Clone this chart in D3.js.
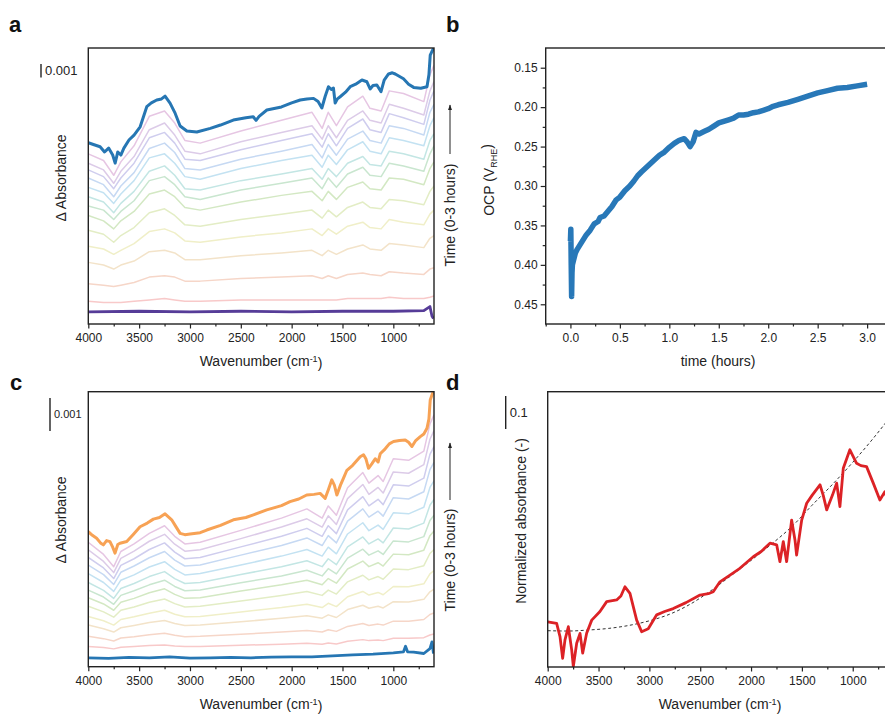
<!DOCTYPE html>
<html lang="en">
<head>
<meta charset="UTF-8">
<title>IR spectra and OCP</title>
<script src="https://d3js.org/d3.v7.min.js"></script>
<style>
    body { margin: 0; background: #fff; }
    svg { font-family: "Liberation Sans", Arial, sans-serif; }
    .frame { fill: none; stroke: #222; stroke-width: 1.4; }
    .axis line { stroke: #222; stroke-width: 1.2; }
    .axis text { font-size: 12px; fill: #222; font-family: "Liberation Sans", Arial, sans-serif; }
    .title { font-size: 14px; fill: #222; }
    .letter { font-size: 22px; font-weight: bold; fill: #111; }
    .spec { fill: none; stroke-linejoin: round; }
</style>
</head>
<body>
<script>
// ---------- panel a : spectra at OCP (units of 0.001 absorbance) ----------
const wnTopA = [4000, 3950, 3884, 3840, 3800, 3760, 3736, 3710, 3680, 3650, 3600, 3550, 3490, 3425, 3380, 3327, 3280, 3245, 3196, 3150, 3097, 3031, 2933, 2800, 2700, 2574, 2450, 2378, 2350, 2320, 2244, 2100, 2000, 1916, 1850, 1785, 1740, 1703, 1670, 1638, 1610, 1589, 1572, 1550, 1523, 1470, 1424, 1370, 1309, 1260, 1228, 1200, 1162, 1121, 1090, 1047, 1010, 981, 900, 850, 800, 730, 669, 650, 637, 614, 600];
const absTopA = [13.53, 13.4, 13.23, 12.84, 13.13, 12.61, 12.01, 12.84, 12.61, 13.13, 13.73, 14.1, 14.72, 16.22, 16.5, 16.72, 16.8, 17.01, 16.49, 15.8, 14.78, 14.4, 14.33, 14.6, 14.85, 15.22, 15.4, 15.47, 15.2, 15.5, 15.97, 16.2, 16.5, 16.72, 16.8, 16.84, 16.6, 16.12, 17.0, 17.71, 17.5, 17.61, 16.49, 16.8, 16.96, 17.3, 17.71, 17.9, 18.21, 18.08, 17.54, 17.8, 17.84, 17.34, 18.2, 18.66, 18.75, 18.66, 18.3, 17.9, 17.66, 17.6, 17.71, 18.6, 20.07, 20.45, 20.6];
const wnBaseA = [4000, 3500, 3000, 2500, 2000, 1500, 1000, 700, 640, 620, 605];
const absBaseA = [0.9, 0.95, 0.9, 0.95, 0.9, 0.95, 0.95, 1.0, 1.3, 0.6, 0.4];
const wnMidA = [4000, 3850, 3750, 3680, 3550, 3400, 3250, 3150, 3050, 2900, 2500, 2100, 1800, 1700, 1640, 1560, 1450, 1300, 1230, 1120, 1040, 900, 700, 640, 600];
const midA = [
    [12.7, 12.2, 11.1, 12.1, 13.3, 15.5, 15.9, 15.0, 13.7, 13.5, 14.4, 15.2, 15.8, 14.6, 15.8, 14.8, 16.2, 17.0, 16.1, 15.9, 17.4, 17.2, 16.6, 18.6, 19.3],
    [12.0, 11.5, 10.5, 11.4, 12.5, 14.5, 15.0, 14.1, 12.9, 12.7, 13.6, 14.3, 14.8, 13.8, 14.8, 13.9, 15.2, 15.9, 15.2, 15.0, 16.4, 16.1, 15.6, 17.4, 18.1],
    [11.5, 11.0, 10.1, 10.9, 12.0, 13.9, 14.3, 13.5, 12.3, 12.2, 13.0, 13.7, 14.2, 13.2, 14.2, 13.3, 14.6, 15.3, 14.5, 14.3, 15.7, 15.4, 14.9, 16.7, 17.4],
    [10.9, 10.4, 9.5, 10.3, 11.3, 13.1, 13.5, 12.8, 11.6, 11.5, 12.3, 12.9, 13.4, 12.4, 13.4, 12.6, 13.8, 14.4, 13.7, 13.5, 14.8, 14.6, 14.1, 15.8, 16.4],
    [10.2, 9.8, 9.0, 9.7, 10.7, 12.4, 12.7, 12.0, 11.0, 10.8, 11.6, 12.2, 12.6, 11.7, 12.6, 11.9, 13.0, 13.6, 12.9, 12.7, 13.9, 13.7, 13.3, 14.8, 15.4],
    [9.5, 9.1, 8.3, 9.0, 9.9, 11.4, 11.8, 11.1, 10.1, 10.0, 10.7, 11.2, 11.6, 10.8, 11.6, 11.0, 12.0, 12.5, 11.9, 11.8, 12.9, 12.7, 12.3, 13.7, 14.2],
    [8.8, 8.5, 7.8, 8.4, 9.2, 10.7, 11.0, 10.4, 9.5, 9.3, 10.0, 10.5, 10.9, 10.1, 10.9, 10.2, 11.2, 11.7, 11.1, 11.0, 12.0, 11.8, 11.4, 12.7, 13.3],
    [8.1, 7.7, 7.1, 7.7, 8.4, 9.7, 10.0, 9.5, 8.7, 8.5, 9.1, 9.6, 9.9, 9.2, 9.9, 9.3, 10.2, 10.6, 10.1, 10.0, 10.9, 10.8, 10.4, 11.6, 12.1],
    [7.0, 6.7, 6.1, 6.6, 7.2, 8.3, 8.6, 8.1, 7.4, 7.3, 7.8, 8.2, 8.5, 7.9, 8.5, 8.0, 8.7, 9.1, 8.7, 8.6, 9.3, 9.2, 8.9, 9.9, 10.3],
    [5.8, 5.6, 5.2, 5.5, 6.0, 6.9, 7.1, 6.8, 6.2, 6.1, 6.5, 6.8, 7.1, 6.6, 7.1, 6.7, 7.3, 7.6, 7.2, 7.1, 7.8, 7.6, 7.4, 8.2, 8.5],
    [4.6, 4.4, 4.1, 4.4, 4.7, 5.4, 5.5, 5.3, 4.8, 4.8, 5.1, 5.3, 5.5, 5.1, 5.5, 5.2, 5.6, 5.9, 5.6, 5.5, 6.0, 5.9, 5.7, 6.4, 6.6],
    [3.0, 2.9, 2.8, 2.9, 3.1, 3.5, 3.6, 3.5, 3.2, 3.2, 3.4, 3.5, 3.6, 3.4, 3.6, 3.4, 3.7, 3.8, 3.7, 3.6, 3.9, 3.8, 3.7, 4.1, 4.2],
    [1.7, 1.6, 1.6, 1.6, 1.7, 1.8, 1.9, 1.8, 1.7, 1.7, 1.8, 1.8, 1.8, 1.8, 1.8, 1.8, 1.9, 1.9, 1.9, 1.9, 2.0, 1.9, 1.9, 2.0, 2.1]
];

// ---------- panel b : open circuit potential ----------
const ocpTime = [0, 0.004, 0.008, 0.012, 0.016, 0.02, 0.03, 0.05, 0.07, 0.1, 0.13, 0.16, 0.2, 0.24, 0.28, 0.3, 0.34, 0.38, 0.42, 0.46, 0.5, 0.55, 0.6, 0.64, 0.68, 0.72, 0.78, 0.84, 0.9, 0.95, 1.0, 1.05, 1.1, 1.15, 1.18, 1.21, 1.24, 1.27, 1.3, 1.35, 1.4, 1.45, 1.5, 1.55, 1.6, 1.65, 1.7, 1.75, 1.8, 1.85, 1.9, 1.95, 2.0, 2.05, 2.1, 2.2, 2.3, 2.4, 2.5, 2.6, 2.7, 2.8, 2.9, 3.0];
const ocpVolt = [0.37, 0.355, 0.40, 0.44, 0.41, 0.40, 0.395, 0.385, 0.38, 0.374, 0.368, 0.362, 0.356, 0.348, 0.345, 0.34, 0.338, 0.332, 0.326, 0.318, 0.314, 0.306, 0.300, 0.294, 0.287, 0.282, 0.275, 0.268, 0.261, 0.257, 0.251, 0.246, 0.242, 0.240, 0.244, 0.250, 0.244, 0.232, 0.234, 0.231, 0.228, 0.224, 0.220, 0.218, 0.216, 0.214, 0.210, 0.210, 0.209, 0.207, 0.206, 0.204, 0.202, 0.199, 0.197, 0.194, 0.190, 0.186, 0.182, 0.179, 0.176, 0.175, 0.173, 0.171];

// ---------- panel c : spectra (units of 0.001 absorbance) ----------
const wnTopC = [4000, 3960, 3918, 3880, 3852, 3820, 3787, 3760, 3737, 3710, 3688, 3622, 3560, 3491, 3420, 3360, 3300, 3245, 3180, 3140, 3097, 3050, 2999, 2900, 2835, 2700, 2573, 2450, 2376, 2245, 2100, 2016, 1930, 1852, 1780, 1720, 1670, 1640, 1605, 1580, 1555, 1520, 1490, 1457, 1400, 1326, 1293, 1270, 1244, 1210, 1178, 1150, 1129, 1080, 1040, 998, 940, 883, 850, 817, 780, 735, 700, 669, 650, 637, 614, 600];
const absTopC = [4.09, 3.98, 3.89, 3.75, 3.69, 3.82, 3.79, 3.62, 3.44, 3.70, 3.74, 3.79, 4.0, 4.24, 4.35, 4.47, 4.52, 4.63, 4.45, 4.25, 4.04, 4.0, 4.02, 4.06, 4.14, 4.28, 4.45, 4.52, 4.60, 4.75, 4.88, 5.0, 5.08, 5.2, 5.22, 5.25, 5.10, 5.35, 5.66, 5.5, 5.2, 5.5, 5.71, 5.95, 6.1, 6.36, 6.42, 6.3, 6.01, 6.15, 6.3, 6.2, 6.45, 6.6, 6.75, 6.82, 6.85, 6.87, 6.8, 6.67, 6.85, 6.97, 7.05, 7.22, 7.5, 8.08, 8.28, 8.3];
const wnBaseC = [4000, 3800, 3600, 3400, 3200, 3000, 2800, 2600, 2400, 2200, 2000, 1800, 1600, 1400, 1200, 1000, 900, 880, 860, 800, 700, 640, 620, 605];
const absBaseC = [0.27, 0.25, 0.28, 0.27, 0.30, 0.26, 0.27, 0.28, 0.27, 0.29, 0.30, 0.30, 0.33, 0.36, 0.38, 0.42, 0.45, 0.62, 0.45, 0.44, 0.40, 0.55, 0.75, 0.4];
const wnMidC = [4000, 3850, 3750, 3680, 3550, 3400, 3250, 3150, 3050, 2900, 2500, 2100, 1850, 1700, 1640, 1560, 1450, 1300, 1240, 1150, 1100, 1000, 850, 700, 640, 600];
const midC = [
    [3.77, 3.40, 3.03, 3.49, 3.72, 4.04, 4.27, 3.95, 3.72, 3.77, 4.13, 4.50, 4.78, 4.50, 4.87, 4.59, 5.42, 5.88, 5.56, 5.79, 5.61, 6.30, 6.25, 6.53, 7.35, 7.63],
    [3.54, 3.19, 2.85, 3.28, 3.50, 3.80, 4.01, 3.71, 3.50, 3.54, 3.88, 4.23, 4.48, 4.23, 4.57, 4.31, 5.09, 5.52, 5.22, 5.43, 5.26, 5.90, 5.86, 6.12, 6.89, 7.15],
    [3.31, 2.99, 2.67, 3.07, 3.27, 3.55, 3.75, 3.47, 3.27, 3.31, 3.63, 3.95, 4.19, 3.95, 4.27, 4.03, 4.75, 5.15, 4.87, 5.07, 4.91, 5.51, 5.47, 5.71, 6.43, 6.67],
    [3.08, 2.79, 2.49, 2.86, 3.05, 3.30, 3.49, 3.23, 3.05, 3.08, 3.38, 3.67, 3.90, 3.67, 3.97, 3.75, 4.41, 4.78, 4.53, 4.71, 4.56, 5.12, 5.08, 5.30, 5.97, 6.19],
    [2.82, 2.55, 2.28, 2.62, 2.78, 3.02, 3.18, 2.95, 2.78, 2.82, 3.08, 3.35, 3.55, 3.35, 3.62, 3.42, 4.02, 4.36, 4.12, 4.29, 4.16, 4.66, 4.63, 4.83, 5.43, 5.63],
    [2.55, 2.31, 2.07, 2.37, 2.52, 2.73, 2.88, 2.67, 2.52, 2.55, 2.79, 3.03, 3.21, 3.03, 3.27, 3.09, 3.63, 3.93, 3.72, 3.87, 3.75, 4.20, 4.17, 4.35, 4.89, 5.07],
    [2.32, 2.11, 1.89, 2.16, 2.30, 2.48, 2.62, 2.43, 2.30, 2.32, 2.54, 2.75, 2.92, 2.75, 2.97, 2.81, 3.29, 3.56, 3.38, 3.51, 3.40, 3.81, 3.78, 3.94, 4.43, 4.59],
    [2.09, 1.90, 1.71, 1.95, 2.07, 2.24, 2.36, 2.19, 2.07, 2.09, 2.29, 2.48, 2.62, 2.48, 2.67, 2.53, 2.96, 3.20, 3.03, 3.15, 3.05, 3.41, 3.39, 3.53, 3.97, 4.11],
    [1.83, 1.66, 1.50, 1.71, 1.81, 1.95, 2.05, 1.91, 1.81, 1.83, 1.99, 2.16, 2.28, 2.16, 2.32, 2.20, 2.57, 2.77, 2.63, 2.73, 2.65, 2.96, 2.94, 3.06, 3.43, 3.55],
    [1.52, 1.39, 1.26, 1.43, 1.51, 1.62, 1.71, 1.59, 1.51, 1.52, 1.66, 1.79, 1.89, 1.79, 1.92, 1.82, 2.12, 2.28, 2.17, 2.25, 2.18, 2.43, 2.42, 2.51, 2.81, 2.91],
    [1.26, 1.15, 1.05, 1.18, 1.25, 1.34, 1.40, 1.31, 1.25, 1.26, 1.36, 1.47, 1.54, 1.47, 1.57, 1.49, 1.73, 1.86, 1.77, 1.83, 1.78, 1.97, 1.96, 2.04, 2.27, 2.35],
    [0.92, 0.85, 0.78, 0.87, 0.91, 0.97, 1.01, 0.95, 0.91, 0.92, 0.98, 1.05, 1.10, 1.05, 1.12, 1.07, 1.22, 1.31, 1.25, 1.29, 1.26, 1.38, 1.38, 1.43, 1.58, 1.63],
    [0.61, 0.58, 0.54, 0.59, 0.61, 0.64, 0.66, 0.63, 0.61, 0.61, 0.65, 0.68, 0.71, 0.68, 0.72, 0.69, 0.77, 0.82, 0.79, 0.81, 0.79, 0.86, 0.86, 0.88, 0.96, 0.99]
];

// ---------- panel d : normalized absorbance + polynomial baseline ----------
const wnRed = [4000, 3912, 3879, 3853, 3830, 3797, 3764, 3748, 3715, 3682, 3656, 3617, 3567, 3486, 3420, 3322, 3280, 3240, 3191, 3125, 3076, 3011, 2928, 2850, 2765, 2640, 2502, 2420, 2372, 2306, 2200, 2110, 1978, 1900, 1814, 1748, 1716, 1683, 1650, 1601, 1568, 1552, 1502, 1453, 1400, 1322, 1290, 1256, 1200, 1158, 1126, 1093, 1028, 962, 920, 864, 798, 733, 684, 650];
const absRed = [0.137, 0.132, 0.092, 0.026, 0.082, 0.122, 0.052, 0.001, 0.072, 0.102, 0.042, 0.102, 0.142, 0.168, 0.198, 0.203, 0.215, 0.243, 0.223, 0.142, 0.107, 0.116, 0.158, 0.168, 0.177, 0.195, 0.218, 0.222, 0.228, 0.258, 0.28, 0.299, 0.334, 0.35, 0.375, 0.370, 0.319, 0.380, 0.319, 0.445, 0.385, 0.339, 0.445, 0.496, 0.52, 0.552, 0.52, 0.476, 0.52, 0.557, 0.486, 0.602, 0.658, 0.617, 0.61, 0.607, 0.557, 0.506, 0.531, 0.50];
const wnFit = [4000, 3800, 3600, 3400, 3200, 3000, 2800, 2600, 2400, 2200, 2000, 1800, 1600, 1400, 1200, 1000, 800, 600];
const absFit = [0.110, 0.109, 0.112, 0.117, 0.126, 0.140, 0.160, 0.190, 0.230, 0.276, 0.323, 0.372, 0.425, 0.490, 0.553, 0.620, 0.692, 0.770];

// pastel colours, latest spectrum first
const midColors = ["#e6c6e3", "#dccbe8", "#cfcdee", "#c6d9f3", "#c3e2f2", "#c3e6e4", "#c9e6cf", "#d3e8c3", "#e3edc5", "#f0efc8", "#f3e3c9", "#f6d6c8", "#f8c9c9"];

const wnTicks = [4000, 3500, 3000, 2500, 2000, 1500, 1000];
const wnMinor = [3750, 3250, 2750, 2250, 1750, 1250, 750];
const ocpTicks = [0.15, 0.20, 0.25, 0.30, 0.35, 0.40, 0.45];
const ocpMinor = [0.175, 0.225, 0.275, 0.325, 0.375, 0.425];
const timeTicks = [0, 0.5, 1.0, 1.5, 2.0, 2.5, 3.0];
const timeMinor = [-0.25, 0.25, 0.75, 1.25, 1.75, 2.25, 2.75];

const svg = d3.select("body").append("svg").attr("width", 885).attr("height", 715);
const defs = svg.append("defs");
defs.append("marker").attr("id", "arrow")
    .attr("viewBox", "0 0 10 10").attr("refX", 9).attr("refY", 5)
    .attr("markerWidth", 6).attr("markerHeight", 8).attr("orient", "auto")
    .append("path").attr("d", "M0,1.5 L10,5 L0,8.5 z").attr("fill", "#222");

// scales
const xA = d3.scaleLinear().domain([4000, 600]).range([88.3, 434]);
const yA = d3.scaleLinear().domain([0, 20.6]).range([324, 48]);
const xB = d3.scaleLinear().domain([-0.25, 3.2]).range([545.7, 886.9]);
const yB = d3.scaleLinear().domain([0.125, 0.475]).range([48, 324]);
const xC = d3.scaleLinear().domain([4000, 600]).range([88.3, 434]);
const yC = d3.scaleLinear().domain([0, 8.33]).range([666.7, 391.7]);
const xD = d3.scaleLinear().domain([4000, 600]).range([547.7, 893.4]);
const yD = d3.scaleLinear().domain([0, 0.834]).range([667, 391.7]);

let clipId = 0;
function panel(x, y) {
    const x0 = d3.min(x.range()), x1 = d3.max(x.range());
    const y0 = d3.min(y.range()), y1 = d3.max(y.range());
    const id = "clip" + (clipId++);
    defs.append("clipPath").attr("id", id).append("rect")
        .attr("x", x0).attr("y", y0).attr("width", x1 - x0).attr("height", y1 - y0);
    const g = svg.append("g").attr("clip-path", `url(#${id})`);
    svg.append("rect").attr("class", "frame")
        .attr("x", x0).attr("y", y0).attr("width", x1 - x0).attr("height", y1 - y0);
    return g;
}

function bottomAxis(x, y, major, minor, fmt) {
    const y0 = d3.max(y.range());
    const g = svg.append("g").attr("class", "axis").attr("transform", `translate(0,${y0})`)
        .call(d3.axisBottom(x).tickValues(major).tickSize(4.5).tickPadding(5).tickFormat(fmt));
    g.select(".domain").remove();
    const m = svg.append("g").attr("class", "axis").attr("transform", `translate(0,${y0})`)
        .call(d3.axisBottom(x).tickValues(minor).tickSize(2.5).tickFormat(""));
    m.select(".domain").remove();
}

function spectrum(g, x, y, wn, vals, color, width) {
    const line = d3.line().x((d, i) => x(wn[i])).y(d => y(d));
    g.append("path").attr("class", "spec").attr("d", line(vals))
        .attr("stroke", color).attr("stroke-width", width);
}

function wnTitle(cx, yb) {
    const t = svg.append("text").attr("class", "title").attr("x", cx).attr("y", yb)
        .attr("text-anchor", "middle");
    t.append("tspan").text("Wavenumber (cm");
    t.append("tspan").attr("dy", "-0.45em").attr("font-size", "9px").text("-1");
    t.append("tspan").attr("dy", "0.45em").text(")");
}

function vText(x, cy, str, size) {
    return svg.append("text").attr("class", "title").attr("font-size", size + "px")
        .attr("text-anchor", "middle")
        .attr("transform", `translate(${x},${cy}) rotate(-90)`).text(str);
}

function timeArrow(x, cy, yTop, yTail) {
    vText(x + 5, cy, "Time (0-3 hours)", 13.5);
    svg.append("line").attr("x1", x).attr("x2", x).attr("y1", yTail).attr("y2", yTop)
        .attr("stroke", "#222").attr("stroke-width", 1).attr("marker-end", "url(#arrow)");
}

function scaleBar(x, y, v0, v1, label, size) {
    svg.append("line").attr("x1", x).attr("x2", x).attr("y1", y(v0)).attr("y2", y(v1))
        .attr("stroke", "#222").attr("stroke-width", 1.4);
    svg.append("text").attr("x", x + 4).attr("y", (y(v0) + y(v1)) / 2)
        .attr("dy", "0.36em").attr("font-size", size + "px").attr("fill", "#222").text(label);
}

// ---- a ----
const gA = panel(xA, yA);
midA.forEach((vals, k) => spectrum(gA, xA, yA, wnMidA, vals, midColors[k], 1.5));
spectrum(gA, xA, yA, wnBaseA, absBaseA, "#563c98", 2.8);
spectrum(gA, xA, yA, wnTopA, absTopA, "#2676b3", 3);
bottomAxis(xA, yA, wnTicks, wnMinor, d3.format("d"));
wnTitle(261, 366);
vText(66, 178, "\u0394 Absorbance", 13.5);
scaleBar(41, yA, 18.4, 19.4, "0.001", 13);
svg.append("text").attr("class", "letter").attr("x", 9).attr("y", 32).text("a");
timeArrow(450, 215, 105, 154);

// ---- b ----
const gB = panel(xB, yB);
gB.append("path").attr("class", "spec")
    .attr("d", d3.line().x((d, i) => xB(ocpTime[i])).y(d => yB(d))(ocpVolt))
    .attr("stroke", "#2878b8").attr("stroke-width", 5.5);
bottomAxis(xB, yB, timeTicks, timeMinor, d3.format(".1f"));
const ya = svg.append("g").attr("class", "axis").attr("transform", "translate(545.7,0)")
    .call(d3.axisLeft(yB).tickValues(ocpTicks).tickSize(5).tickPadding(3).tickFormat(d3.format(".2f")));
ya.select(".domain").remove();
const ym = svg.append("g").attr("class", "axis").attr("transform", "translate(545.7,0)")
    .call(d3.axisLeft(yB).tickValues(ocpMinor).tickSize(3).tickFormat(""));
ym.select(".domain").remove();
svg.append("text").attr("class", "title").attr("x", 718).attr("y", 366)
    .attr("text-anchor", "middle").text("time (hours)");
const ocpT = svg.append("text").attr("class", "title").attr("font-size", "13.5px")
    .attr("text-anchor", "middle").attr("transform", "translate(494,180) rotate(-90)");
ocpT.append("tspan").text("OCP (V");
ocpT.append("tspan").attr("dy", "0.35em").attr("font-size", "9px").text("RHE");
ocpT.append("tspan").attr("dy", "-0.35em").text(")");
svg.append("text").attr("class", "letter").attr("x", 446).attr("y", 32).text("b");

// ---- c ----
const gC = panel(xC, yC);
midC.forEach((vals, k) => spectrum(gC, xC, yC, wnMidC, vals, midColors[k], 1.5));
spectrum(gC, xC, yC, wnBaseC, absBaseC, "#2676b3", 2.8);
spectrum(gC, xC, yC, wnTopC, absTopC, "#f7a255", 3);
bottomAxis(xC, yC, wnTicks, wnMinor, d3.format("d"));
wnTitle(261, 709);
vText(66, 520, "\u0394 Absorbance", 13.5);
scaleBar(50, yC, 7.14, 8.14, "0.001", 11);
svg.append("text").attr("class", "letter").attr("x", 10).attr("y", 390).text("c");
timeArrow(450, 560, 443, 500);

// ---- d ----
const gD = panel(xD, yD);
gD.append("path").attr("class", "spec")
    .attr("d", d3.line().curve(d3.curveMonotoneX).x((d, i) => xD(wnFit[i])).y(d => yD(d))(absFit))
    .attr("stroke", "#333").attr("stroke-width", 1).attr("stroke-dasharray", "3,2.5");
spectrum(gD, xD, yD, wnRed, absRed, "#dc2226", 2.8);
bottomAxis(xD, yD, wnTicks, wnMinor, d3.format("d"));
wnTitle(720, 709);
vText(526, 521, "Normalized absorbance (-)", 13.5);
scaleBar(505.7, yD, 0.721, 0.821, "0.1", 13);
svg.append("text").attr("class", "letter").attr("x", 446).attr("y", 390).text("d");
</script>
</body>
</html>
